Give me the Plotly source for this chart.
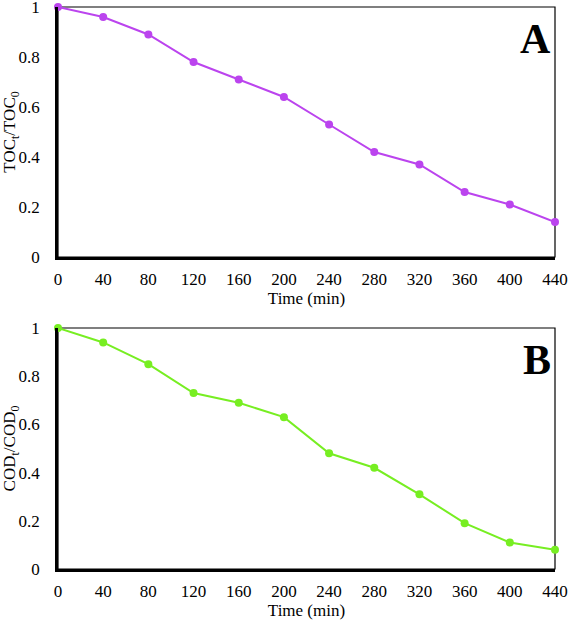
import plotly.graph_objects as go

time_min = [0, 40, 80, 120, 160, 200, 240, 280, 320, 360, 400, 440]
toc_ratio = [1.0, 0.96, 0.89, 0.78, 0.71, 0.64, 0.53, 0.42, 0.37, 0.26, 0.21, 0.14]
cod_ratio = [1.0, 0.94, 0.85, 0.73, 0.69, 0.63, 0.48, 0.42, 0.31, 0.19, 0.11, 0.08]
x_ticks = [0, 40, 80, 120, 160, 200, 240, 280, 320, 360, 400, 440]
y_ticks = [0, 0.2, 0.4, 0.6, 0.8, 1]
y_tick_labels = ["0", "0.2", "0.4", "0.6", "0.8", "1"]

W, H = 569, 626
FONT = "Liberation Serif, Times New Roman, serif"

def px_x(p):
    return p / W

def px_y(p):
    return 1 - p / H

fig = go.Figure()
fig.add_trace(go.Scatter(x=time_min, y=toc_ratio, mode="lines+markers",
                         line=dict(color="#BB44EE", width=2),
                         marker=dict(color="#BB44EE", size=8),
                         xaxis="x", yaxis="y", showlegend=False, cliponaxis=False))
fig.add_trace(go.Scatter(x=time_min, y=cod_ratio, mode="lines+markers",
                         line=dict(color="#77EE22", width=2),
                         marker=dict(color="#77EE22", size=8),
                         xaxis="x2", yaxis="y2", showlegend=False, cliponaxis=False))

xdom = [px_x(58), px_x(555)]
common_x = dict(range=[0, 440], tickvals=x_ticks, showgrid=False, zeroline=False,
                showline=True, linecolor="black", linewidth=2.5, ticks="",
                ticklabelstandoff=5, automargin=False, ticklabeloverflow="allow",
                tickfont=dict(family=FONT, size=17, color="black"),
                title=dict(text="Time (min)", font=dict(family=FONT, size=17, color="black"),
                           standoff=0),
                domain=xdom)
common_y = dict(range=[0, 1], tickvals=y_ticks, ticktext=y_tick_labels, showgrid=False,
                zeroline=False, showline=True, linecolor="black", linewidth=2.5, ticks="",
                ticklabelstandoff=12, automargin=False, ticklabeloverflow="allow",
                tickfont=dict(family=FONT, size=17, color="black"))

fig.update_layout(
    width=W, height=H,
    margin=dict(l=0, r=0, t=0, b=0, autoexpand=False),
    paper_bgcolor="white", plot_bgcolor="white",
    xaxis=dict(common_x, anchor="y"),
    yaxis=dict(common_y, anchor="x", domain=[px_y(257), px_y(7)],
               title=dict(text="TOC<sub>t</sub>/TOC<sub>0</sub>",
                          font=dict(family=FONT, size=17, color="black"), standoff=4)),
    xaxis2=dict(common_x, anchor="y2"),
    yaxis2=dict(common_y, anchor="x2", domain=[px_y(569), px_y(328)],
                title=dict(text="COD<sub>t</sub>/COD<sub>0</sub>",
                           font=dict(family=FONT, size=17, color="black"), standoff=4)),
    shapes=[
        dict(type="rect", xref="x domain", yref="y domain", x0=0, x1=1, y0=0, y1=1,
             line=dict(color="black", width=1.2), layer="below"),
        dict(type="rect", xref="x2 domain", yref="y2 domain", x0=0, x1=1, y0=0, y1=1,
             line=dict(color="black", width=1.2), layer="below"),
    ],
    annotations=[
        dict(text="<b>A</b>", xref="x domain", yref="y domain", x=0.995, y=0.97,
             xanchor="right", yanchor="top", showarrow=False,
             font=dict(family=FONT, size=42, color="black")),
        dict(text="<b>B</b>", xref="x2 domain", yref="y2 domain", x=0.995, y=0.97,
             xanchor="right", yanchor="top", showarrow=False,
             font=dict(family=FONT, size=42, color="black")),
    ],
)

fig.write_html("out.html", config={"displayModeBar": False},
               post_script="document.body.style.margin='0px';")
